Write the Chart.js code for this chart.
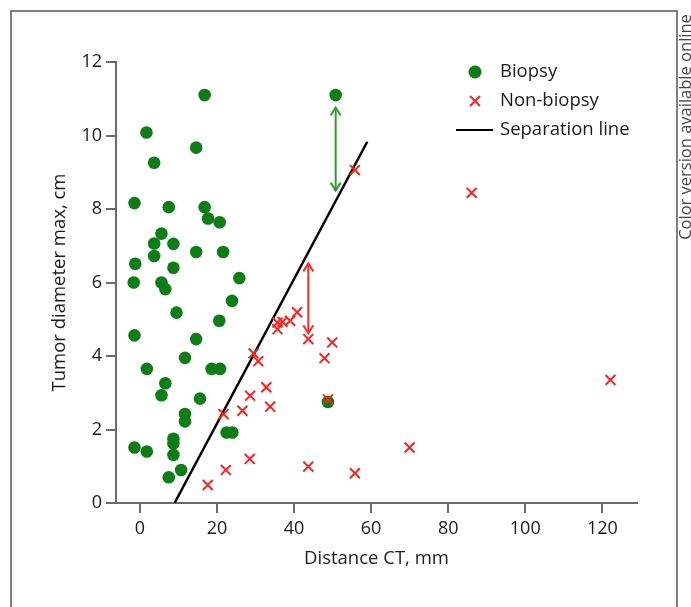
<!DOCTYPE html>
<html>
<head>
<meta charset="utf-8">
<script src="https://cdn.jsdelivr.net/npm/chart.js@4.4.1/dist/chart.umd.min.js"></script>
<style>
  html, body { margin: 0; padding: 0; background: #fff; }
</style>
</head>
<body>
<canvas id="chart" width="691" height="607"></canvas>
<script>
// Biopsy group (green dots)
const biopsyX = [16.8, 50.8, 1.7, 14.6, 3.7, -1.4, 7.5, 16.8, 17.7, 20.7, 5.6, 3.7, 8.7, 3.7, 14.6, 21.6,
  -1.2, 8.7, 25.8, -1.6, 5.6, 6.6, 23.9, 9.5, 20.6, -1.4, 14.6, 11.7, 1.8, 18.6, 20.8, 6.6, 5.6, 15.6,
  11.7, 11.7, 22.5, 24.0, 8.7, 8.7, 8.7, -1.4, 1.8, 10.7, 7.5, 48.8];
const biopsyY = [11.10, 11.10, 10.08, 9.67, 9.26, 8.16, 8.05, 8.05, 7.74, 7.64, 7.33, 7.06, 7.05, 6.72, 6.83, 6.83,
  6.51, 6.40, 6.12, 6.00, 6.00, 5.82, 5.50, 5.18, 4.96, 4.56, 4.46, 3.95, 3.65, 3.65, 3.65, 3.26, 2.93, 2.84,
  2.42, 2.22, 1.92, 1.92, 1.75, 1.62, 1.31, 1.51, 1.40, 0.90, 0.70, 2.75];

// Non-biopsy group (red crosses)
const nonBiopsyX = [55.8, 40.8, 39.0, 37.0, 35.7, 35.7, 43.7, 49.9, 47.9, 29.5, 30.7, 32.8, 28.6, 33.8, 26.6,
  21.7, 48.8, 28.5, 43.7, 55.8, 70.0, 86.1, 122.1, 22.3, 17.6];
const nonBiopsyY = [9.06, 5.19, 4.96, 4.93, 4.91, 4.73, 4.46, 4.37, 3.94, 4.07, 3.86, 3.15, 2.92, 2.62, 2.51,
  2.42, 2.82, 1.20, 0.99, 0.81, 1.51, 8.44, 3.35, 0.90, 0.49];

// separation line end points
const sepX = [9.0, 59.0];
const sepY = [0, 9.83];

// double-headed arrows (x, from y, to y)
const arrowX = [50.8, 43.7];
const arrowTop = [10.76, 6.52];
const arrowBottom = [8.50, 4.62];
const arrowColors = ['#2f9a35', '#ff2a2a'];

const xTicks = [0, 20, 40, 60, 80, 100, 120];
const yTicks = [0, 2, 4, 6, 8, 10, 12];

const FONT = 'Open Sans';
const GREEN = '#0f7d17';
const RED = '#ff2020';
const AXIS = '#6a6a6a';
const TEXT = '#1a1a1a';

const toPoints = (xs, ys) => xs.map((x, i) => ({ x: x, y: ys[i] }));

const framePlugin = {
  id: 'frame',
  beforeDraw(chart) {
    const ctx = chart.ctx;
    ctx.save();
    ctx.fillStyle = '#fff';
    ctx.fillRect(0, 0, chart.width, chart.height);
    ctx.strokeStyle = '#555';
    ctx.lineWidth = 1.5;
    ctx.strokeRect(11, 11, 666, 640);
    // side note
    ctx.translate(686, 127);
    ctx.rotate(-Math.PI / 2);
    ctx.fillStyle = '#444';
    ctx.font = '16.5px "' + FONT + '"';
    ctx.textAlign = 'center';
    ctx.textBaseline = 'middle';
    ctx.fillText('Color version available online', 0, 0);
    ctx.restore();
  }
};

function drawArrow(ctx, x, yTop, yBottom, color) {
  ctx.strokeStyle = color;
  ctx.lineWidth = 2;
  ctx.beginPath();
  ctx.moveTo(x, yTop);
  ctx.lineTo(x, yBottom);
  ctx.stroke();
  ctx.beginPath();
  ctx.moveTo(x - 5, yTop + 8);
  ctx.lineTo(x, yTop);
  ctx.lineTo(x + 5, yTop + 8);
  ctx.stroke();
  ctx.beginPath();
  ctx.moveTo(x - 5, yBottom - 8);
  ctx.lineTo(x, yBottom);
  ctx.lineTo(x + 5, yBottom - 8);
  ctx.stroke();
}

const arrowsPlugin = {
  id: 'arrows',
  afterDatasetsDraw(chart) {
    const ctx = chart.ctx;
    const xs = chart.scales.x, ys = chart.scales.y;
    ctx.save();
    arrowX.forEach((v, i) => {
      drawArrow(ctx, xs.getPixelForValue(v), ys.getPixelForValue(arrowTop[i]),
        ys.getPixelForValue(arrowBottom[i]), arrowColors[i]);
    });
    ctx.restore();
  }
};

// legend drawn inside the plot, top right
const legendPlugin = {
  id: 'insideLegend',
  afterDraw(chart) {
    const ctx = chart.ctx;
    const sets = chart.data.datasets;
    const markX = 475, textX = 500, rowY = [72, 101, 130];
    ctx.save();
    ctx.font = '18.5px "' + FONT + '"';
    ctx.textBaseline = 'middle';
    // dot
    ctx.beginPath();
    ctx.fillStyle = GREEN;
    ctx.arc(markX, rowY[0], 6.5, 0, Math.PI * 2);
    ctx.fill();
    // cross
    ctx.strokeStyle = RED;
    ctx.lineWidth = 2;
    ctx.beginPath();
    ctx.moveTo(markX - 5, rowY[1] - 5); ctx.lineTo(markX + 5, rowY[1] + 5);
    ctx.moveTo(markX + 5, rowY[1] - 5); ctx.lineTo(markX - 5, rowY[1] + 5);
    ctx.stroke();
    // line
    ctx.strokeStyle = '#000';
    ctx.beginPath();
    ctx.moveTo(456, rowY[2]); ctx.lineTo(493, rowY[2]);
    ctx.stroke();
    ctx.fillStyle = TEXT;
    sets.forEach((ds, i) => ctx.fillText(ds.label, textX, rowY[i]));
    ctx.restore();
  }
};

new Chart(document.getElementById('chart'), {
  type: 'scatter',
  data: {
    datasets: [
      {
        label: 'Biopsy',
        data: toPoints(biopsyX, biopsyY),
        pointStyle: 'circle',
        pointRadius: 6.3,
        backgroundColor: GREEN,
        borderColor: GREEN,
        borderWidth: 0,
        order: 2
      },
      {
        label: 'Non-biopsy',
        data: toPoints(nonBiopsyX, nonBiopsyY),
        pointStyle: 'crossRot',
        pointRadius: 7,
        borderColor: RED,
        backgroundColor: RED,
        borderWidth: 2,
        order: 1
      },
      {
        label: 'Separation line',
        type: 'line',
        data: toPoints(sepX, sepY),
        borderColor: '#000',
        borderWidth: 2.5,
        pointRadius: 0,
        fill: false,
        order: 3
      }
    ]
  },
  options: {
    responsive: false,
    animation: false,
    layout: { padding: { left: 49, top: 62, right: 54, bottom: 37 } },
    plugins: { legend: { display: false }, tooltip: { enabled: false } },
    scales: {
      x: {
        type: 'linear',
        min: -6.2,
        max: 129,
        afterBuildTicks: s => { s.ticks = xTicks.map(v => ({ value: v })); },
        afterFit: s => { s.height = 67; },
        border: { color: AXIS, width: 2 },
        grid: { drawOnChartArea: false, drawTicks: true, tickLength: 10, color: AXIS, lineWidth: 2 },
        ticks: { color: TEXT, font: { family: FONT, size: 18 }, padding: 5, maxRotation: 0 },
        title: { display: true, text: 'Distance CT, mm', color: TEXT, font: { family: FONT, size: 18.5 }, padding: 0 }
      },
      y: {
        type: 'linear',
        min: 0,
        max: 12,
        afterBuildTicks: s => { s.ticks = yTicks.map(v => ({ value: v })); },
        afterFit: s => { s.width = 67; },
        border: { color: AXIS, width: 2 },
        grid: { drawOnChartArea: false, drawTicks: true, tickLength: 10, color: AXIS, lineWidth: 2 },
        ticks: { color: TEXT, font: { family: FONT, size: 18 }, padding: 4 },
        title: { display: true, text: 'Tumor diameter max, cm', color: TEXT, font: { family: FONT, size: 18.5 }, padding: 0 }
      }
    }
  },
  plugins: [framePlugin, arrowsPlugin, legendPlugin]
});
</script>
</body>
</html>
